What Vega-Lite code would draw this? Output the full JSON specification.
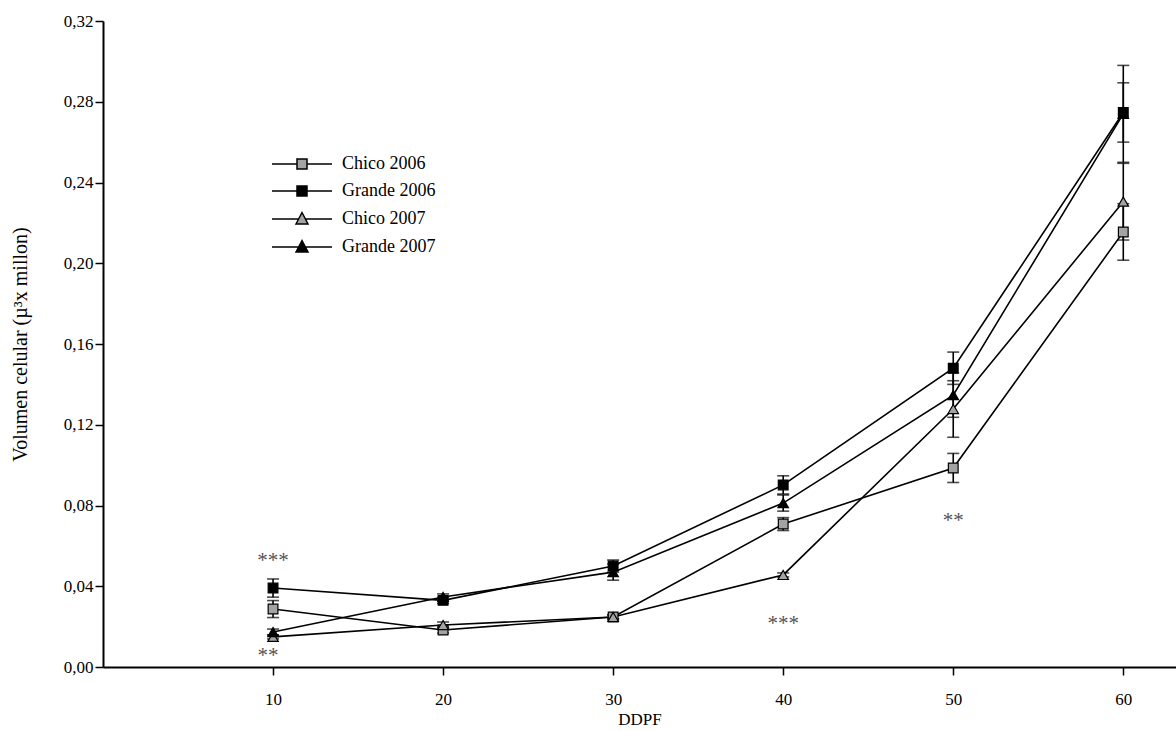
{
  "$schema": "https://vega.github.io/schema/vega-lite/v6.json",
  "width": 1073,
  "height": 646,
  "autosize": {"type": "none"},
  "padding": {"left": 103, "top": 21, "right": 0, "bottom": 64},
  "background": "white",
  "config": {
    "view": {"stroke": null},
    "font": "Liberation Serif",
    "axis": {
      "labelFont": "Liberation Serif",
      "titleFont": "Liberation Serif",
      "labelColor": "#000",
      "titleColor": "#000",
      "domainColor": "#000",
      "tickColor": "#000",
      "labelFontSize": 17,
      "titleFontSize": 17,
      "titleFontWeight": "normal",
      "grid": false,
      "domainWidth": 2,
      "tickWidth": 1.5
    },
    "legend": {
      "labelFont": "Liberation Serif",
      "labelFontSize": 18,
      "labelColor": "#000",
      "padding": 0
    }
  },
  "datasets": {
    "volumen": [
      {"ddpf": 10, "serie": "Chico 2006", "vol": 0.0287, "err": 0.0042},
      {"ddpf": 20, "serie": "Chico 2006", "vol": 0.0183, "err": 0.0015},
      {"ddpf": 30, "serie": "Chico 2006", "vol": 0.0248, "err": 0.001},
      {"ddpf": 40, "serie": "Chico 2006", "vol": 0.0708, "err": 0.0032},
      {"ddpf": 50, "serie": "Chico 2006", "vol": 0.0986, "err": 0.0072},
      {"ddpf": 60, "serie": "Chico 2006", "vol": 0.2155, "err": 0.014},
      {"ddpf": 10, "serie": "Grande 2006", "vol": 0.0391, "err": 0.0045},
      {"ddpf": 20, "serie": "Grande 2006", "vol": 0.0330, "err": 0.0015},
      {"ddpf": 30, "serie": "Grande 2006", "vol": 0.0500, "err": 0.003},
      {"ddpf": 40, "serie": "Grande 2006", "vol": 0.0902, "err": 0.0045},
      {"ddpf": 50, "serie": "Grande 2006", "vol": 0.1480, "err": 0.008},
      {"ddpf": 60, "serie": "Grande 2006", "vol": 0.2747, "err": 0.0147},
      {"ddpf": 10, "serie": "Chico 2007", "vol": 0.0149, "err": 0.001},
      {"ddpf": 20, "serie": "Chico 2007", "vol": 0.0208, "err": 0.0015},
      {"ddpf": 30, "serie": "Chico 2007", "vol": 0.0248, "err": 0.001},
      {"ddpf": 40, "serie": "Chico 2007", "vol": 0.0456, "err": 0.001},
      {"ddpf": 50, "serie": "Chico 2007", "vol": 0.1278, "err": 0.014},
      {"ddpf": 60, "serie": "Chico 2007", "vol": 0.2305, "err": 0.019},
      {"ddpf": 10, "serie": "Grande 2007", "vol": 0.0173, "err": 0.0015},
      {"ddpf": 20, "serie": "Grande 2007", "vol": 0.0347, "err": 0.0015},
      {"ddpf": 30, "serie": "Grande 2007", "vol": 0.0470, "err": 0.004},
      {"ddpf": 40, "serie": "Grande 2007", "vol": 0.0812, "err": 0.004},
      {"ddpf": 50, "serie": "Grande 2007", "vol": 0.1347, "err": 0.011},
      {"ddpf": 60, "serie": "Grande 2007", "vol": 0.2740, "err": 0.024}
    ],
    "significancia": [
      {"ddpf": 10, "vol": 0.0523, "marca": "***"},
      {"ddpf": 9.7, "vol": 0.0053, "marca": "**"},
      {"ddpf": 40, "vol": 0.0213, "marca": "***"},
      {"ddpf": 50, "vol": 0.0723, "marca": "**"}
    ]
  },
  "data": {"name": "volumen"},
  "encoding": {
    "x": {
      "field": "ddpf",
      "type": "quantitative",
      "scale": {"domain": [0, 63.1], "nice": false, "zero": false},
      "axis": {
        "title": "DDPF",
        "values": [10, 20, 30, 40, 50, 60],
        "tickSize": 8,
        "labelPadding": 16,
        "titlePadding": 4
      }
    },
    "y": {
      "field": "vol",
      "type": "quantitative",
      "scale": {"domain": [0, 0.32], "nice": false},
      "axis": {
        "title": "Volumen celular (µ³x millon)",
        "titleFontSize": 20,
        "values": [0, 0.04, 0.08, 0.12, 0.16, 0.2, 0.24, 0.28, 0.32],
        "labelExpr": "replace(format(datum.value, '.2f'), '.', ',')",
        "tickSize": 8,
        "labelPadding": 2,
        "titlePadding": 33
      }
    }
  },
  "layer": [
    {
      "mark": {"type": "line", "color": "#000", "strokeWidth": 1.6},
      "encoding": {"detail": {"field": "serie"}}
    },
    {
      "transform": [{"filter": "datum.err > 0"}],
      "mark": {
        "type": "errorbar",
        "color": "#000",
        "thickness": 1.6,
        "ticks": {"size": 12, "thickness": 1.6, "color": "#000"}
      },
      "encoding": {
        "yError": {"field": "err"},
        "detail": {"field": "serie"}
      }
    },
    {
      "transform": [{"filter": "indexof(datum.serie, '2006') >= 0"}],
      "mark": {"type": "point", "shape": "square", "filled": true, "stroke": "#000", "strokeWidth": 1.2, "opacity": 1, "size": 95},
      "encoding": {
        "fill": {
          "field": "serie",
          "type": "nominal",
          "scale": {
            "domain": ["Chico 2006", "Grande 2006", "Chico 2007", "Grande 2007"],
            "range": ["#a3a3a3", "#000000", "#a3a3a3", "#000000"]
          }
        }
      }
    },
    {
      "transform": [{"filter": "indexof(datum.serie, '2007') >= 0"}],
      "mark": {"type": "point", "shape": "triangle-up", "filled": true, "stroke": "#000", "strokeWidth": 1.2, "opacity": 1, "size": 110},
      "encoding": {
        "fill": {
          "field": "serie",
          "type": "nominal",
          "scale": {
            "domain": ["Chico 2006", "Grande 2006", "Chico 2007", "Grande 2007"],
            "range": ["#a3a3a3", "#000000", "#a3a3a3", "#000000"]
          }
        }
      }
    },
    {
      "transform": [{"filter": "datum.ddpf < 0"}],
      "mark": {"type": "point", "filled": true, "stroke": "#000", "strokeWidth": 1.3, "opacity": 1, "size": 144},
      "encoding": {
        "shape": {
          "field": "serie",
          "type": "nominal",
          "title": null,
          "scale": {
            "domain": ["Chico 2006", "Grande 2006", "Chico 2007", "Grande 2007"],
            "range": [
              "M-5,0H-0.833M0.833,0H5M-0.833,-0.833H0.833V0.833H-0.833Z",
              "M-5,0H-0.833M0.833,0H5M-0.833,-0.833H0.833V0.833H-0.833Z",
              "M-5,0H-0.565M0.565,0H5M-1,0.83L0,-1.08L1,0.83Z",
              "M-5,0H-0.565M0.565,0H5M-1,0.83L0,-1.08L1,0.83Z"
            ]
          },
          "legend": {
            "orient": "none",
            "legendX": 190,
            "legendY": 134,
            "labelOffset": 31,
            "rowPadding": 9,
            "symbolSize": 144,
            "encode": {
              "symbols": {
                "size": {"value": 144},
                "stroke": {"value": "#000"},
                "strokeWidth": {"value": 1.3},
                "opacity": {"value": 1}
              }
            }
          }
        },
        "fill": {
          "field": "serie",
          "type": "nominal",
          "title": null,
          "scale": {
            "domain": ["Chico 2006", "Grande 2006", "Chico 2007", "Grande 2007"],
            "range": ["#a3a3a3", "#000000", "#a3a3a3", "#000000"]
          },
          "legend": {
            "orient": "none",
            "legendX": 190,
            "legendY": 134,
            "labelOffset": 31,
            "rowPadding": 9,
            "symbolSize": 144
          }
        }
      }
    },
    {
      "data": {"name": "significancia"},
      "mark": {"type": "text", "font": "Liberation Serif", "fontSize": 21, "fill": "#555", "baseline": "middle", "align": "center"},
      "encoding": {"text": {"field": "marca"}}
    }
  ]
}
